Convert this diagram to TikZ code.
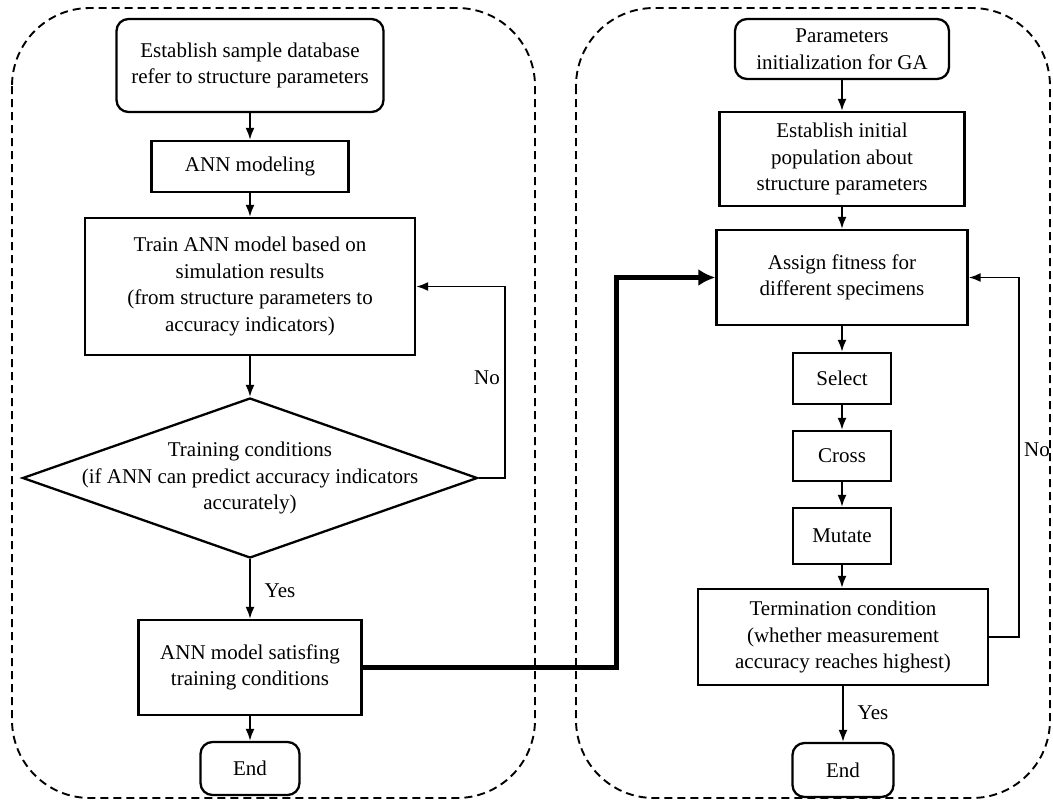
\documentclass[tikz,border=0pt]{standalone}
\usepackage{fontspec}
\setmainfont{Liberation Serif}
\usetikzlibrary{shapes.geometric,arrows.meta}
\begin{document}
\begin{tikzpicture}[x=1pt,y=-1pt,
 txt/.style={font=\fontsize{21}{26.5}\selectfont},
 box/.style={draw, line width=2.3pt, inner sep=0pt, align=center, txt},
 rbox/.style={box, rounded corners=12pt},
 arr/.style={line width=1.9pt, -{Latex[length=12pt,width=9pt]}},
 thickarr/.style={line width=5pt, -{Latex[length=17pt,width=17pt]}},
 lbl/.style={txt, inner sep=0pt},
 container/.style={draw, dash pattern=on 8pt off 5pt, line width=1.9pt, rounded corners=78pt}]
\useasboundingbox (0,0) rectangle (1053,801);
\draw[container] (12,8) rectangle (535,798);
\draw[container] (576,8) rectangle (1050,798);
% left column
\node[rbox, minimum width=267pt, minimum height=93pt] (s1) at (250,65.5) {Establish sample database\\refer to structure parameters};
\node[box, minimum width=197pt, minimum height=51pt] (ann) at (250,166.5) {ANN modeling};
\node[box, minimum width=330pt, minimum height=137pt] (train) at (250,286.5) {Train ANN model based on\\simulation results\\(from structure parameters to\\accuracy indicators)};
\node[draw, diamond, line width=2.3pt, minimum width=455pt, minimum height=160pt, inner sep=0pt] (dia) at (250,478) {};
\node[lbl, align=center] (diat) at (dia.center) {Training conditions\\(if ANN can predict accuracy indicators\\accurately)};
\node[box, minimum width=223pt, minimum height=95pt] (sat) at (250,667.5) {ANN model satisfing\\training conditions};
\node[rbox, minimum width=99pt, minimum height=53pt] (end1) at (250,768.5) {End};
\node[lbl] (no1) at (487,378) {No};
\node[lbl] (yes1) at (280,591) {Yes};
% right column
\node[rbox, minimum width=214pt, minimum height=60pt] (p1) at (842,49) {Parameters\\initialization for GA};
\node[box, minimum width=245pt, minimum height=94pt] (p2) at (842,159) {Establish initial\\population about\\structure parameters};
\node[box, minimum width=251pt, minimum height=95pt] (fit) at (842,277.5) {Assign fitness for\\different specimens};
\node[box, minimum width=98pt, minimum height=51pt] (sel) at (842,378.5) {Select};
\node[box, minimum width=98pt, minimum height=50pt] (cross) at (842,456) {Cross};
\node[box, minimum width=98pt, minimum height=56pt] (mut) at (842,536) {Mutate};
\node[box, minimum width=290pt, minimum height=96pt] (term) at (843,637) {Termination condition\\(whether measurement\\accuracy reaches highest)};
\node[rbox, minimum width=101pt, minimum height=54pt] (end2) at (843,770) {End};
\node[lbl] (no2) at (1037,450) {No};
\node[lbl] (yes2) at (873,713) {Yes};
% connectors left
\draw[arr] (s1.south) -- (ann.north);
\draw[arr] (ann.south) -- (train.north);
\draw[arr] (train.south) -- (dia.north);
\draw[arr] (dia.south) -- (sat.north);
\draw[arr] (sat.south) -- (end1.north);
\draw[arr] (dia.east) -- ++(26,0) |- (train.east);
% connectors right
\draw[arr] (p1.south) -- (p2.north);
\draw[arr] (p2.south) -- (fit.north);
\draw[arr] (fit.south) -- (sel.north);
\draw[arr] (sel.south) -- (cross.north);
\draw[arr] (cross.south) -- (mut.north);
\draw[arr] (mut.south) -- (mut.south |- term.north);
\draw[arr] (term.south) -- (end2.north);
\draw[arr] (term.east) -- ++(30,0) |- (fit.east);
% thick link
\draw[thickarr] (sat.east) -- ++(254,0) |- (fit.west);
\end{tikzpicture}
\end{document}
